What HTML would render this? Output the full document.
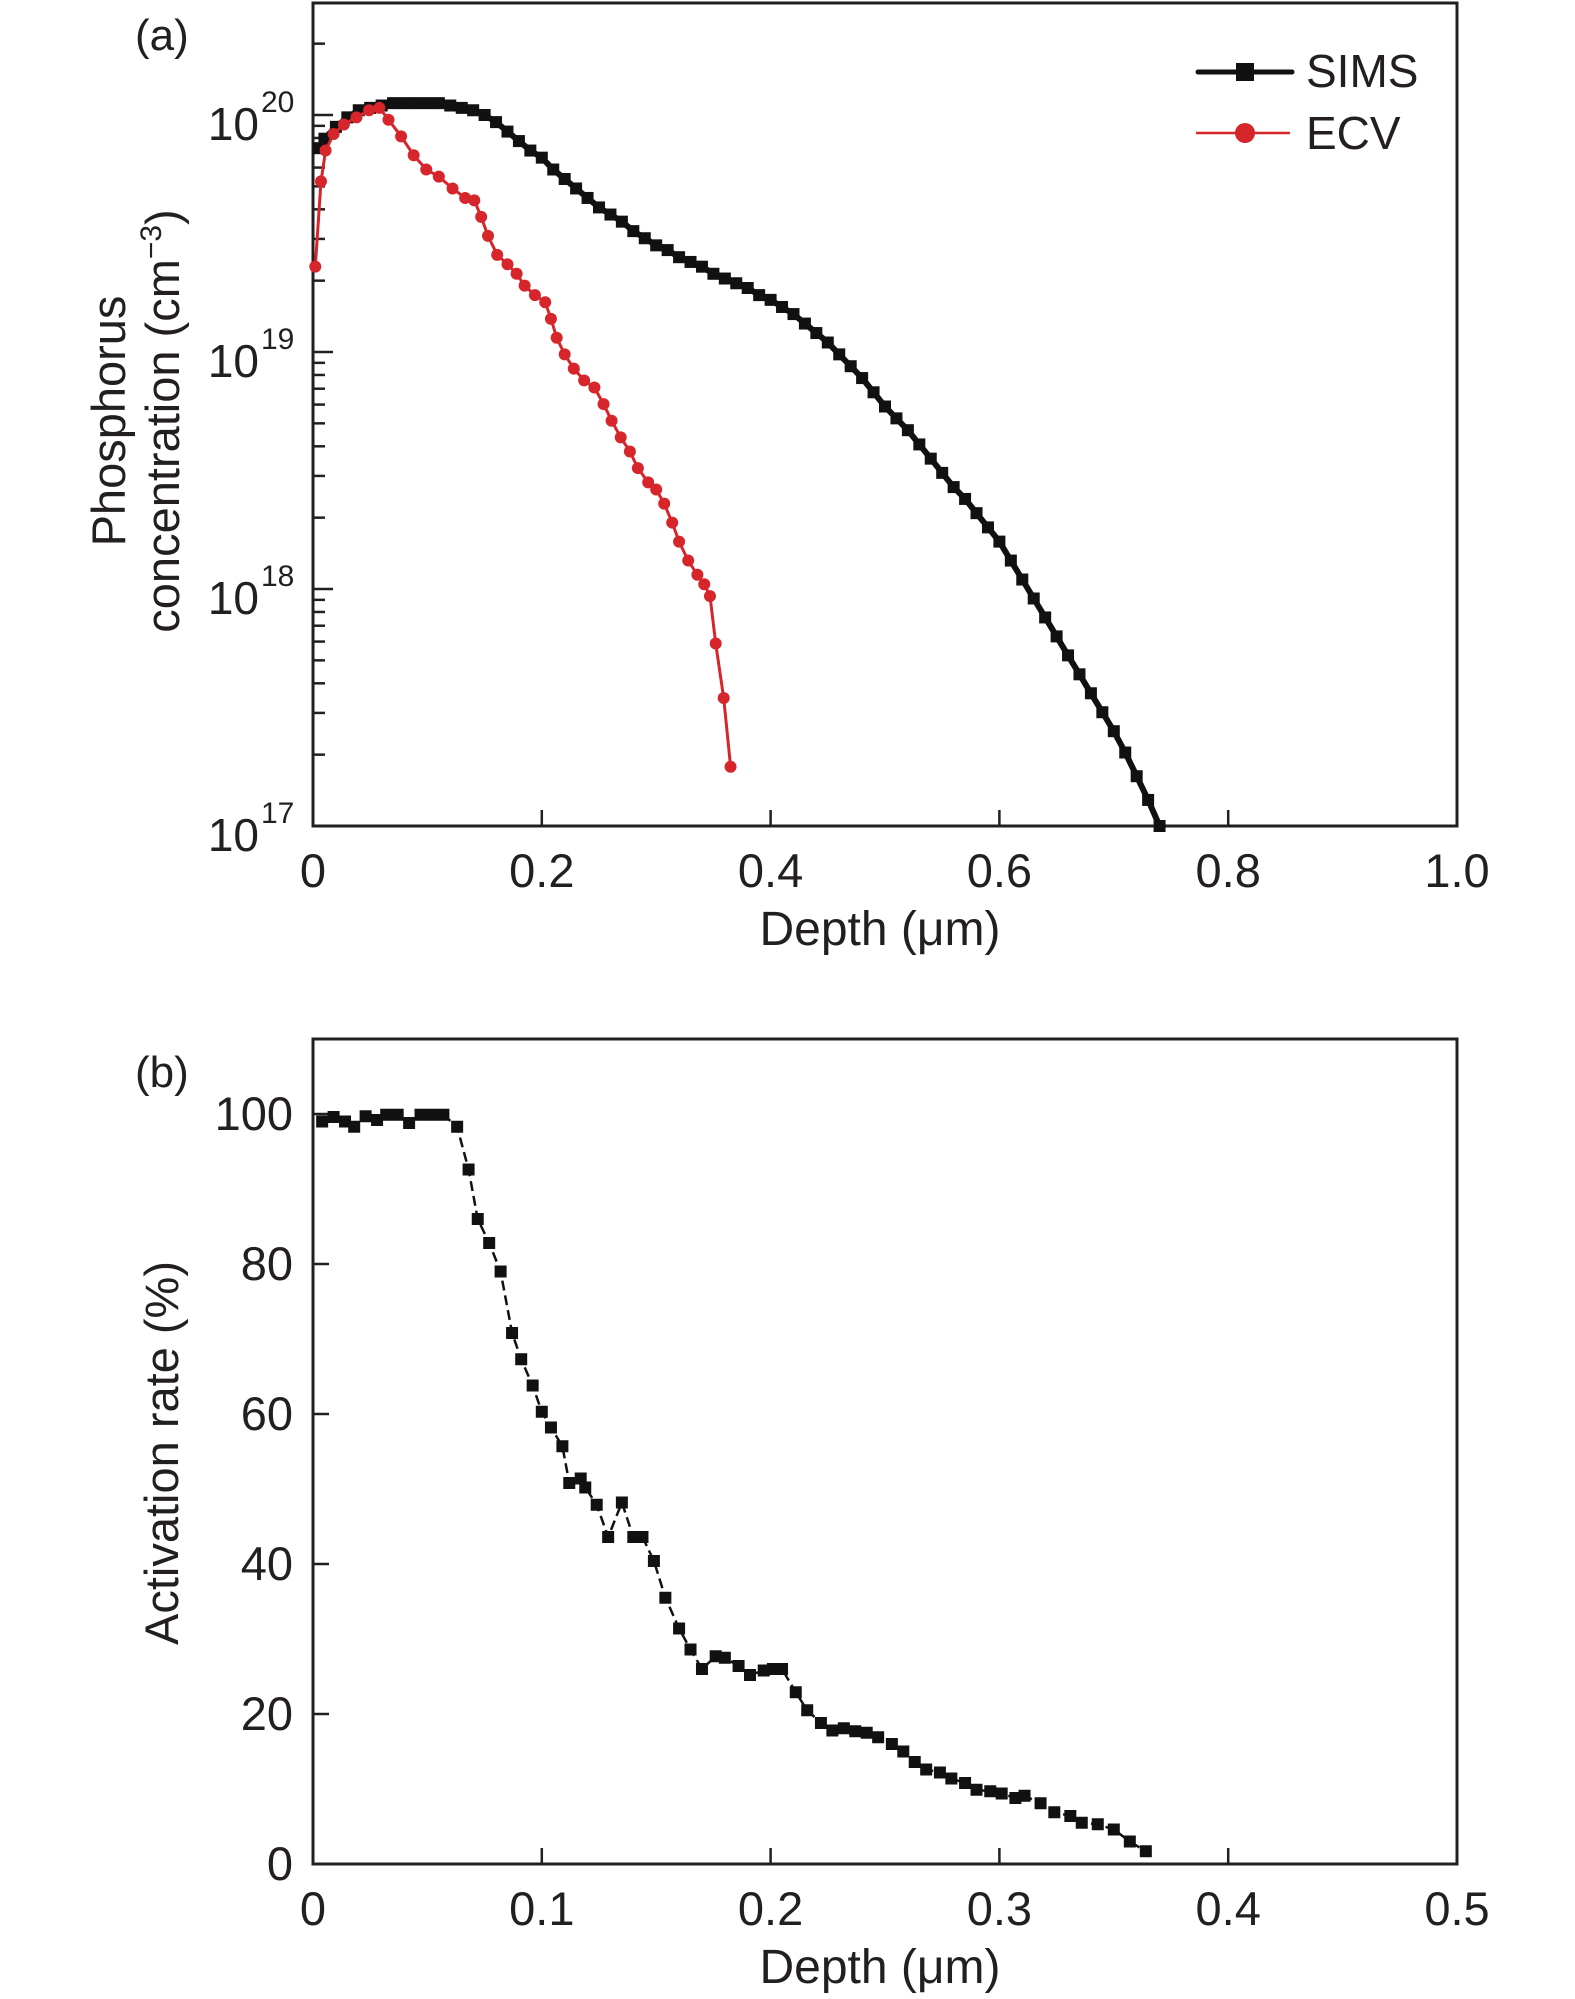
<!DOCTYPE html>
<html><head><meta charset="utf-8"><style>
html,body{margin:0;padding:0;background:#fff;}
svg{display:block;font-family:"Liberation Sans",sans-serif;}
</style></head><body>
<svg id="fig" width="1575" height="1999" viewBox="0 0 1575 1999" xmlns="http://www.w3.org/2000/svg"></svg>
<script>
// ---- Panel (a) data: depth (um) and log10 concentration (cm^-3)
const simsDepth = [0.005,0.01,0.02,0.03,0.04,0.05,0.06,0.07,0.08,0.09,0.10,0.11,0.12,0.13,0.14,0.15,0.16,0.17,0.18,0.19,0.20,0.21,0.22,0.23,0.24,0.25,0.26,0.27,0.28,0.29,0.30,0.31,0.32,0.33,0.34,0.35,0.36,0.37,0.38,0.39,0.40,0.41,0.42,0.43,0.44,0.45,0.46,0.47,0.48,0.49,0.50,0.51,0.52,0.53,0.54,0.55,0.56,0.57,0.58,0.59,0.60,0.61,0.62,0.63,0.64,0.65,0.66,0.67,0.68,0.69,0.70,0.71,0.72,0.73,0.74];
const simsLog = [19.86,19.90,19.95,19.99,20.02,20.03,20.04,20.05,20.05,20.05,20.05,20.05,20.04,20.03,20.02,20.00,19.97,19.93,19.89,19.85,19.82,19.77,19.73,19.69,19.65,19.61,19.58,19.55,19.51,19.48,19.45,19.43,19.40,19.38,19.36,19.33,19.31,19.29,19.27,19.24,19.22,19.19,19.16,19.12,19.08,19.04,18.99,18.94,18.89,18.83,18.77,18.72,18.67,18.61,18.55,18.49,18.43,18.38,18.32,18.26,18.20,18.12,18.04,17.96,17.88,17.80,17.72,17.64,17.56,17.48,17.40,17.31,17.21,17.11,17.00];
const ecvDepth = [0.002,0.007,0.011,0.018,0.027,0.038,0.049,0.058,0.066,0.077,0.088,0.099,0.110,0.122,0.133,0.141,0.147,0.153,0.161,0.170,0.178,0.185,0.194,0.203,0.208,0.213,0.220,0.228,0.237,0.246,0.254,0.261,0.269,0.277,0.284,0.293,0.300,0.307,0.314,0.320,0.328,0.336,0.342,0.347,0.352,0.359,0.365];
const ecvLog = [19.36,19.72,19.85,19.92,19.96,19.99,20.02,20.03,19.98,19.91,19.83,19.77,19.74,19.69,19.65,19.64,19.57,19.49,19.41,19.37,19.33,19.28,19.24,19.21,19.14,19.06,18.99,18.93,18.88,18.85,18.78,18.71,18.64,18.58,18.51,18.45,18.42,18.36,18.28,18.20,18.12,18.06,18.02,17.97,17.77,17.54,17.25];
const aXTicks = [0,0.2,0.4,0.6,0.8,1.0];
const aXTickLabels = ["0","0.2","0.4","0.6","0.8","1.0"];
const aYDecades = [17,18,19,20];
// ---- Panel (b) data: depth (um) and activation rate (%)
const actDepth = [0.004,0.009,0.014,0.018,0.023,0.028,0.032,0.037,0.042,0.047,0.052,0.057,0.063,0.068,0.072,0.077,0.082,0.087,0.091,0.096,0.100,0.104,0.109,0.112,0.117,0.119,0.124,0.129,0.135,0.140,0.144,0.149,0.154,0.160,0.165,0.170,0.176,0.180,0.186,0.191,0.197,0.201,0.205,0.211,0.216,0.222,0.227,0.232,0.237,0.242,0.247,0.253,0.258,0.263,0.268,0.274,0.279,0.285,0.290,0.296,0.301,0.307,0.311,0.318,0.324,0.331,0.336,0.343,0.350,0.357,0.364];
const actRate = [99.0,99.6,99.0,98.3,99.7,99.2,99.9,99.9,98.8,99.9,99.9,99.9,98.3,92.6,86.0,82.8,79.0,70.8,67.3,63.8,60.3,58.2,55.7,50.8,51.4,50.2,47.9,43.6,48.2,43.6,43.6,40.4,35.5,31.4,28.6,26.0,27.7,27.5,26.4,25.2,25.8,26.0,26.0,22.9,20.5,18.8,17.8,18.1,17.7,17.5,16.9,16.0,15.0,13.6,12.6,12.2,11.4,10.8,9.9,9.7,9.4,8.8,9.1,8.1,6.9,6.4,5.5,5.3,4.6,3.0,1.7];
const bXTicks = [0,0.1,0.2,0.3,0.4,0.5];
const bXTickLabels = ["0","0.1","0.2","0.3","0.4","0.5"];
const bYTicks = [0,20,40,60,80,100];
const bYTickLabels = ["0","20","40","60","80","100"];

const NS = "http://www.w3.org/2000/svg";
const svg = document.getElementById('fig');
function mk(tag, attrs, parent, txt){
  const e = document.createElementNS(NS, tag);
  for (const k in attrs) e.setAttribute(k, attrs[k]);
  if (txt !== undefined) e.textContent = txt;
  (parent||svg).appendChild(e);
  return e;
}
const A = {l:313, r:1457, t:3, b:826};
const aDec = 237;
function ax(v){ return A.l + v/1.0 * (A.r - A.l); }
function ay(lg){ return A.b - (lg - 17) * aDec; }
const B = {l:313, r:1457, t:1039, b:1864};
function bx(v){ return B.l + v/0.5 * (B.r - B.l); }
function by(v){ return B.b - v/110 * (B.b - B.t); }

// ===== Panel a =====
const gA = mk('g', {});


for (const d of [17,18,19,20]) {
  for (let m = 2; m <= 9; m++) {
    const y = ay(d + Math.log10(m));
    if (y < A.t) continue;
    const t = mk('line', {x1:A.l, x2:A.l+12, y1:y, y2:y, stroke:'#231f20', 'stroke-width':2.5}, gA);
    
    
  }
}
aYDecades.forEach(d => {
  const y = ay(d);
  const t = mk('line', {x1:A.l, x2:A.l+20, y1:y, y2:y, stroke:'#231f20', 'stroke-width':2.5}, gA);
  
  
  const lbl = mk('text', {x:259, y:y+25, 'font-size':46, 'text-anchor':'end', fill:'#231f20'}, gA, '10');
  
  
  const sup = mk('text', {x:261, y:y-3, 'font-size':30, fill:'#231f20'}, gA, String(d));
  
  
});
aXTicks.forEach((v,i) => {
  const x = ax(v);
  if (i > 0 && i < aXTicks.length-1) {
    const t = mk('line', {x1:x, x2:x, y1:A.b, y2:A.b-16, stroke:'#231f20', 'stroke-width':2.5}, gA);
    
    
  }
  const lbl = mk('text', {x:x, y:887, 'font-size':47, 'text-anchor':'middle', fill:'#231f20'}, gA, aXTickLabels[i]);
  
  
});
const frameA = mk('rect', {x:A.l, y:A.t, width:A.r-A.l, height:A.b-A.t, fill:'none', stroke:'#231f20', 'stroke-width':3}, gA);


const simsPath = simsDepth.map((d,i) => (i?'L':'M') + ax(d).toFixed(1) + ',' + ay(simsLog[i]).toFixed(1)).join(' ');
const simsLine = mk('path', {d:simsPath, fill:'none', stroke:'#111', 'stroke-width':6}, gA);


simsDepth.forEach((d,i) => {
  const r = mk('rect', {x:ax(d)-6, y:ay(simsLog[i])-6, width:12, height:12, fill:'#111'}, gA);
  
  
});
const ecvPath = ecvDepth.map((d,i) => (i?'L':'M') + ax(d).toFixed(1) + ',' + ay(ecvLog[i]).toFixed(1)).join(' ');
const ecvLine = mk('path', {d:ecvPath, fill:'none', stroke:'#d7262b', 'stroke-width':3}, gA);


ecvDepth.forEach((d,i) => {
  const c = mk('circle', {cx:ax(d), cy:ay(ecvLog[i]), r:6, fill:'#d7262b'}, gA);
  
  
});
const lg1 = mk('g', {}, gA);


mk('line', {x1:1198, x2:1292, y1:72, y2:72, stroke:'#111', 'stroke-width':5, 'stroke-linecap':'round'}, lg1);
mk('rect', {x:1236, y:63, width:18, height:18, fill:'#111'}, lg1);
mk('text', {x:1306, y:87, 'font-size':46, fill:'#231f20'}, lg1, 'SIMS');
const lg2 = mk('g', {}, gA);


mk('line', {x1:1196, x2:1290, y1:133, y2:133, stroke:'#d7262b', 'stroke-width':2.5}, lg2);
mk('circle', {cx:1245, cy:133, r:10, fill:'#d7262b'}, lg2);
mk('text', {x:1306, y:149, 'font-size':46, fill:'#231f20'}, lg2, 'ECV');
const pa = mk('text', {x:135, y:50, 'font-size':44, fill:'#231f20'}, gA, '(a)');


const xta = mk('text', {x:880, y:945, 'font-size':48, 'text-anchor':'middle', fill:'#231f20'}, gA, 'Depth (μm)');


const yta = mk('text', {transform:'translate(125,421) rotate(-90)', 'font-size':47, 'text-anchor':'middle', fill:'#231f20'}, gA);


mk('tspan', {x:0, y:0}, yta, 'Phosphorus');
mk('tspan', {x:0, y:54}, yta, 'concentration (cm');
mk('tspan', {dy:-18, 'font-size':30}, yta, '−3');
mk('tspan', {dy:18}, yta, ')');

// ===== Panel b =====
const gB = mk('g', {});


bYTicks.forEach((v,i) => {
  const y = by(v);
  if (i > 0) {
    const t = mk('line', {x1:B.l, x2:B.l+16, y1:y, y2:y, stroke:'#231f20', 'stroke-width':2.5}, gB);
    
    
  }
  const lbl = mk('text', {x:293, y:y+16, 'font-size':47, 'text-anchor':'end', fill:'#231f20'}, gB, bYTickLabels[i]);
  
  
});
bXTicks.forEach((v,i) => {
  const x = bx(v);
  if (i > 0 && i < bXTicks.length-1) {
    const t = mk('line', {x1:x, x2:x, y1:B.b, y2:B.b-16, stroke:'#231f20', 'stroke-width':2.5}, gB);
    
    
  }
  const lbl = mk('text', {x:x, y:1925, 'font-size':47, 'text-anchor':'middle', fill:'#231f20'}, gB, bXTickLabels[i]);
  
  
});
const frameB = mk('rect', {x:B.l, y:B.t, width:B.r-B.l, height:B.b-B.t, fill:'none', stroke:'#231f20', 'stroke-width':3}, gB);


const actPath = actDepth.map((d,i) => (i?'L':'M') + bx(d).toFixed(1) + ',' + by(actRate[i]).toFixed(1)).join(' ');
const actLine = mk('path', {d:actPath, fill:'none', stroke:'#111', 'stroke-width':2.5, 'stroke-dasharray':'10,5'}, gB);


actDepth.forEach((d,i) => {
  const r = mk('rect', {x:bx(d)-6, y:by(actRate[i])-6, width:12, height:12, fill:'#111'}, gB);
  
  
});
const pb = mk('text', {x:135, y:1087, 'font-size':44, fill:'#231f20'}, gB, '(b)');


const xtb = mk('text', {x:880, y:1983, 'font-size':48, 'text-anchor':'middle', fill:'#231f20'}, gB, 'Depth (μm)');


const ytb = mk('text', {transform:'translate(178,1453) rotate(-90)', 'font-size':47, 'text-anchor':'middle', fill:'#231f20'}, gB, 'Activation rate (%)');


</script>
</body></html>
